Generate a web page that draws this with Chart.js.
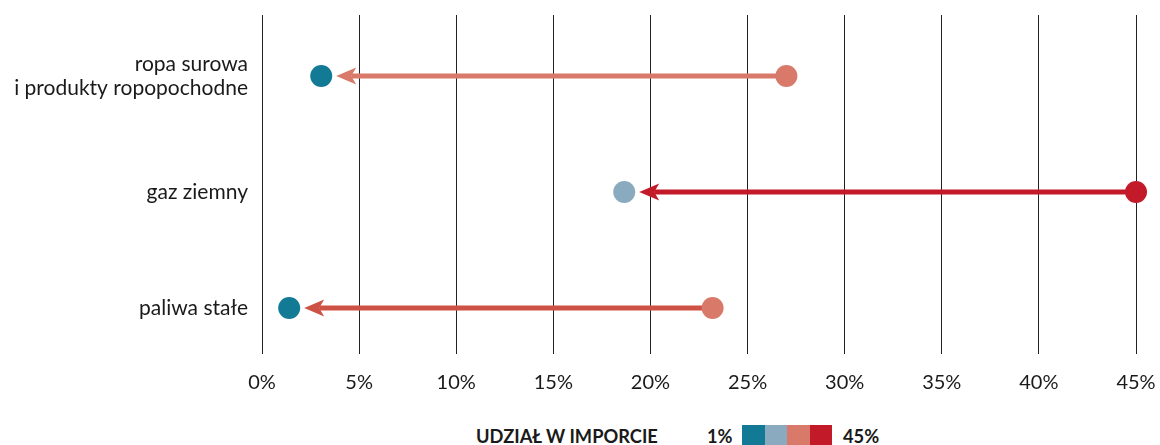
<!DOCTYPE html>
<html>
<head>
<meta charset="utf-8">
<script src="https://cdn.jsdelivr.net/npm/chart.js@4"></script>
<style>
  body { margin: 0; background: #fff; font-family: Lato, sans-serif; }
  #wrap { position: relative; width: 1160px; height: 445px; overflow: hidden; }
  #chart-box { position: absolute; left: 0; top: 0; width: 1160px; height: 400px; }
  .legend span { position: absolute; top: 426px; line-height: 20px; font-size: 18.3px; font-weight: bold; color: #1a1a1a; }
  .legend .sw { top: 425px; width: 22.5px; height: 20px; }
</style>
</head>
<body>
<div id="wrap">
  <div id="chart-box"><canvas id="myChart"></canvas></div>
  <div class="legend" id="legend">
    <span style="left:476px">UDZIAŁ W IMPORCIE</span>
    <span style="left:707px">1%</span>
    <span style="left:843px">45%</span>
  </div>
</div>
<script>
// Data
const categories = [["ropa surowa", "i produkty ropopochodne"], "gaz ziemny", "paliwa stałe"];
const categoryIndex = [0, 1, 2];
const shareFrom = [27.0, 45.0, 23.2];
const shareTo = [3.05, 18.65, 1.4];
const fromColors = ["#d9796a", "#c31a2a", "#d9796a"];
const toColors = ["#137a96", "#8aabbf", "#137a96"];
const arrowColors = ["#d9796a", "#c31a2a", "#cd5145"];
const xTicks = [0, 5, 10, 15, 20, 25, 30, 35, 40, 45];
const legendColors = ["#137a96", "#8aabbf", "#d9796a", "#c31a2a"];

const textColor = "#1a1a1a";

// Legend swatches
const legendBox = document.getElementById("legend");
legendColors.forEach((c, i) => {
    const sw = document.createElement("span");
    sw.className = "sw";
    sw.style.left = (742 + i * 22.5) + "px";
    sw.style.background = c;
    legendBox.appendChild(sw);
});

// Arrows from the old share to the new one
const arrowPlugin = {
    id: "arrows",
    beforeDatasetsDraw(chart) {
        const ctx = chart.ctx;
        const xs = chart.scales.x;
        const ys = chart.scales.y;
        categoryIndex.forEach((c, i) => {
            const x0 = xs.getPixelForValue(shareFrom[i]);
            const x1 = xs.getPixelForValue(shareTo[i]);
            const py = ys.getPixelForValue(c);
            const dir = Math.sign(x0 - x1);
            const tip = x1 + dir * 15;
            const base = tip + dir * 20;
            const notch = tip + dir * 15;
            ctx.save();
            ctx.strokeStyle = arrowColors[i];
            ctx.fillStyle = arrowColors[i];
            ctx.lineWidth = 5;
            ctx.beginPath();
            ctx.moveTo(x0, py);
            ctx.lineTo(notch, py);
            ctx.stroke();
            ctx.beginPath();
            ctx.moveTo(tip, py);
            ctx.lineTo(base, py - 8.5);
            ctx.lineTo(notch, py);
            ctx.lineTo(base, py + 8.5);
            ctx.closePath();
            ctx.fill();
            ctx.restore();
        });
    }
};

const pointsData = (values) => values.map((v, i) => ({ x: v, y: categoryIndex[i] }));

new Chart(document.getElementById("myChart"), {
    type: "scatter",
    data: {
        datasets: [
            {
                data: pointsData(shareFrom),
                pointBackgroundColor: fromColors,
                pointRadius: 11,
                pointHoverRadius: 11,
                pointBorderWidth: 0,
                clip: false,
            },
            {
                data: pointsData(shareTo),
                pointBackgroundColor: toColors,
                pointRadius: 11,
                pointHoverRadius: 11,
                pointBorderWidth: 0,
                clip: false,
            },
        ],
    },
    options: {
        responsive: true,
        maintainAspectRatio: false,
        animation: false,
        events: [],
        layout: { padding: { top: 15, right: 24, left: 0, bottom: 0 } },
        plugins: { legend: { display: false }, tooltip: { enabled: false } },
        scales: {
            x: {
                type: "linear",
                min: 0,
                max: 45,
                afterBuildTicks: (s) => { s.ticks = xTicks.map((v) => ({ value: v })); },
                ticks: { callback: (v) => v + "%", font: { family: "Lato", size: 20 }, color: textColor, padding: 17, maxRotation: 0 },
                grid: { color: "#222", lineWidth: 1, drawTicks: false },
                border: { display: false },
                afterFit: (s) => { s.height = 46; s.paddingLeft = 0; s.paddingRight = 0; },
            },
            y: {
                type: "linear",
                reverse: true,
                min: -0.526,
                max: 2.397,
                afterBuildTicks: (s) => { s.ticks = categoryIndex.map((v) => ({ value: v })); },
                ticks: { callback: (v) => categories[v], font: { family: "Lato", size: 21, lineHeight: 1.15 }, color: textColor, padding: 14 },
                grid: { display: false, drawTicks: false },
                border: { display: false },
                afterFit: (s) => { s.width = 262; s.paddingTop = 0; s.paddingBottom = 0; },
            },
        },
    },
    plugins: [arrowPlugin],
});
</script>
</body>
</html>
